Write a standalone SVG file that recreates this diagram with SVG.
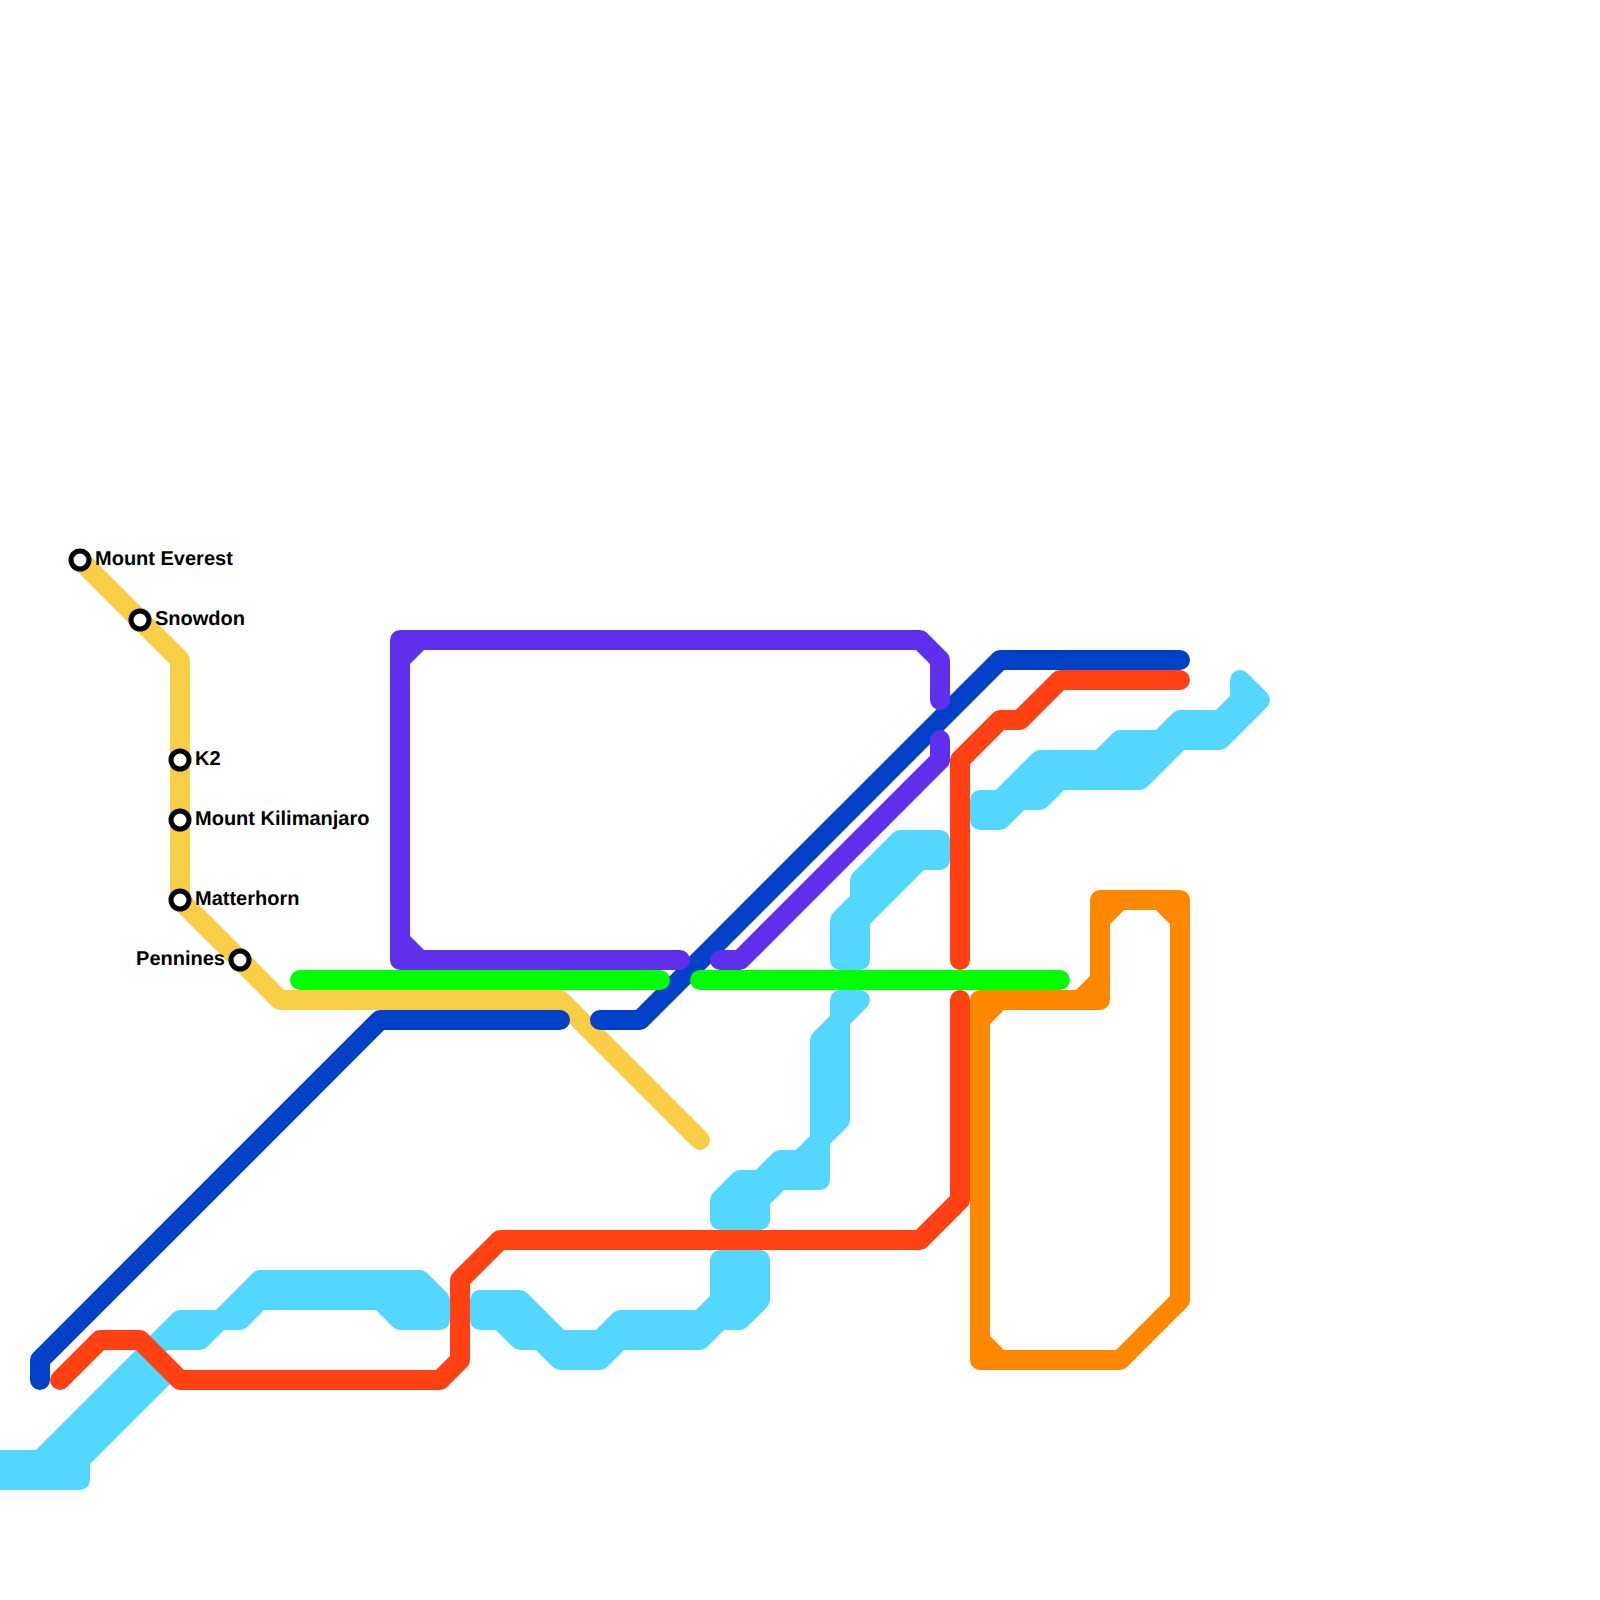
<svg xmlns="http://www.w3.org/2000/svg" width="1600" height="1600" viewBox="0 0 1600 1600">
<style>
.l{fill:none;stroke-width:20;stroke-linecap:round;stroke-linejoin:round}
.c{fill:#53d6ff;stroke:#53d6ff;stroke-width:20;stroke-linejoin:round}
.y{stroke:#f7ce46}.b{stroke:#0041c8}.r{stroke:#ff4114}.p{stroke:#5f30eb}.o{stroke:#ff8800}.g{stroke:#00ff00}
.s{fill:#fff;stroke:#000;stroke-width:5}
text{font-family:"Liberation Sans",Arial,sans-serif;font-size:20px;font-weight:700;fill:#000;text-rendering:geometricPrecision}
</style>
<rect width="1600" height="1600" fill="#fff"/>
<g id="connectors">
<g id="line-cyan">
<polygon class="c" points="-10,1460 40,1460 180,1320 220,1320 260,1280 420,1280 440,1300 440,1320 400,1320 380,1300 260,1300 240,1320 220,1320 200,1340 180,1340 165,1340 150,1350 165,1375 80,1460 80,1480 -10,1480"/>
<polygon class="c" points="480,1300 520,1300 560,1340 600,1340 620,1320 700,1320 720,1300 720,1260 760,1260 760,1300 740,1320 720,1320 700,1340 620,1340 600,1360 560,1360 540,1340 520,1340 500,1320 480,1320"/>
<polygon class="c" points="720,1220 720,1200 740,1180 760,1180 780,1160 800,1160 820,1140 820,1040 840,1020 840,1000 860,1000 840,1020 840,1120 820,1140 820,1180 780,1180 760,1200 760,1220"/>
<polygon class="c" points="840,960 840,920 860,900 860,880 900,840 940,840 940,860 920,860 860,920 860,960"/>
<polygon class="c" points="980,800 1000,800 1040,760 1100,760 1120,740 1160,740 1180,720 1220,720 1240,700 1240,680 1260,700 1220,740 1180,740 1140,780 1060,780 1040,800 1020,800 1000,820 980,820"/>
</g>
<path id="line-yellow" class="l y" d="M80 560L180 660V900L280 1000H560L700 1140"/>
<path id="line-blue" class="l b" d="M40 1380V1360L380 1020H560M600 1020H640L1000 660H1180"/>
<path id="line-purple" class="l p" d="M680 960H400V640H920L940 660V700M940 740V760L740 960H720M400 660L420 640M400 940L420 960"/>
<path id="line-orange" class="l o" d="M980 1020V1000H1100V900H1180V1300L1120 1360H980V1020M980 1020L1000 1000M1080 1000L1100 980M1100 920L1120 900M1160 900L1180 920M980 1340L1000 1360"/>
<path id="line-red" class="l r" d="M60 1380L100 1340H140L180 1380H440L460 1360V1280L500 1240H920L960 1200V1000M960 960V760L1000 720H1020L1060 680H1180"/>
<path id="line-green" class="l g" d="M300 980H660M700 980H1060"/>
</g>
<g id="station-everest"><circle class="s" cx="80" cy="560" r="9"/><text x="95" y="565">Mount Everest</text></g>
<g id="station-snowdon"><circle class="s" cx="140" cy="620" r="9"/><text x="155" y="625">Snowdon</text></g>
<g id="station-k2"><circle class="s" cx="180" cy="760" r="9"/><text x="195" y="765">K2</text></g>
<g id="station-kilimanjaro"><circle class="s" cx="180" cy="820" r="9"/><text x="195" y="825">Mount Kilimanjaro</text></g>
<g id="station-matterhorn"><circle class="s" cx="180" cy="900" r="9"/><text x="195" y="905">Matterhorn</text></g>
<g id="station-pennines"><circle class="s" cx="240" cy="960" r="9"/><text x="225" y="965" text-anchor="end">Pennines</text></g>
</svg>
